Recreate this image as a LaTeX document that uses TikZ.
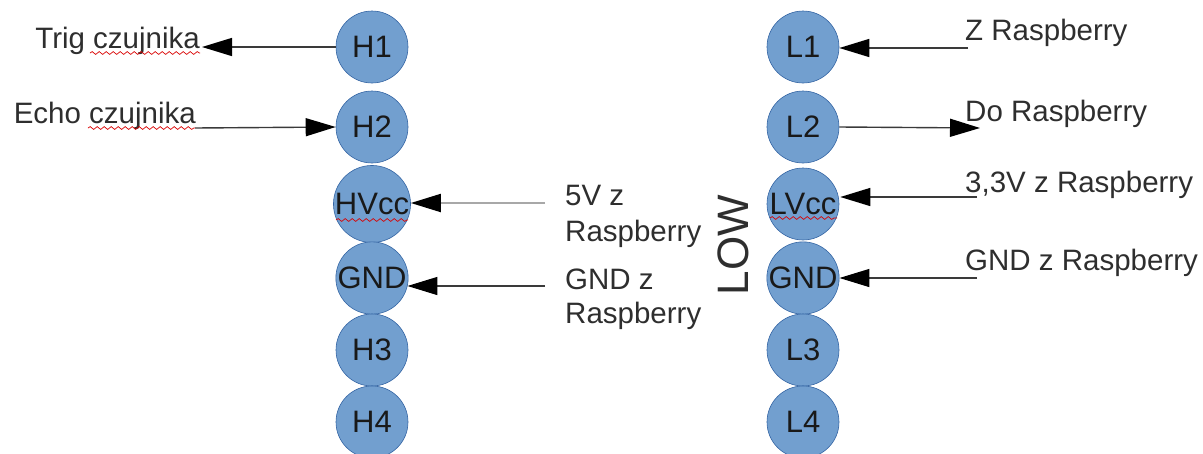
\documentclass[tikz,border=0pt]{standalone}
\usepackage{fontspec}
\setmainfont{Liberation Sans}
\usetikzlibrary{arrows.meta,decorations.pathmorphing}
\definecolor{pinfill}{HTML}{729FCF}
\definecolor{pinedge}{HTML}{3465A4}
\definecolor{txt}{HTML}{2E2E2E}
\definecolor{wire}{HTML}{3A3A3A}
\definecolor{wirelight}{HTML}{A8A8A8}
\begin{document}
\begin{tikzpicture}[x=1pt,y=-1pt,
  pin/.style={circle,fill=pinfill,draw=pinedge,line width=0.6pt,minimum size=72pt,inner sep=0pt,
    font=\fontsize{31}{31}\selectfont,text=black!90},
  lbl/.style={inner sep=0pt,font=\fontsize{29.5}{35}\selectfont,text=txt},
  wire/.style={draw=wire,line width=1.4pt,-{Triangle[length=30pt,width=18pt,color=black]}},
  lightwire/.style={wire,draw=wirelight,line width=2pt},
  squig/.style={draw=red!85!black,line width=0.7pt,decorate,
    decoration={snake,amplitude=1.4pt,segment length=7pt}}]
\useasboundingbox (0,0) rectangle (1203,453);
% pins, high side
\node[pin] (H1) at (372,47) {H1};
\node[pin] (H2) at (372,127) {H2};
\node[pin] (HVcc) at (372,204) {HVcc};
\node[pin] (HGND) at (372,278) {GND};
\node[pin] (H3) at (372,350) {H3};
\node[pin] (H4) at (372,422) {H4};
% pins, low side
\node[pin] (L1) at (803,47) {L1};
\node[pin] (L2) at (803,127) {L2};
\node[pin] (LVcc) at (803,204) {LVcc};
\node[pin] (LGND) at (803,278) {GND};
\node[pin] (L3) at (803,350) {L3};
\node[pin] (L4) at (803,422) {L4};
% LOW
\node[inner sep=0pt,rotate=90,font=\fontsize{44}{44}\selectfont,text=txt] (low) at (733,245) {LOW};
% labels left
\node[lbl,anchor=base east] (trig) at (200,48) {Trig czujnika};
\node[lbl,anchor=base east] (echo) at (196,123) {Echo czujnika};
\node[lbl,anchor=base west] (v5a) at (565,205) {5V z};
\node[lbl,anchor=base west] (v5b) at (565,241) {Raspberry};
\node[lbl,anchor=base west] (gha) at (565,289) {GND z};
\node[lbl,anchor=base west] (ghb) at (565,323) {Raspberry};
% labels right
\node[lbl,anchor=base west] (zr) at (965,40) {Z Raspberry};
\node[lbl,anchor=base west] (dr) at (965,121) {Do Raspberry};
\node[lbl,anchor=base west] (v33) at (965,192) {3,3V z Raspberry};
\node[lbl,anchor=base west] (glr) at (965,270) {GND z Raspberry};
% connector free ends
\coordinate (trigEnd) at (202,47);
\coordinate (echoStart) at (195,128);
\coordinate (v5Start) at (545,203);
\coordinate (ghStart) at (545,286);
\coordinate (zrStart) at (968,48);
\coordinate (drEnd) at (980,128);
\coordinate (v33Start) at (977,197);
\coordinate (glStart) at (977,278);
% connectors
\draw[wire] (H1.west) -- (trigEnd);
\draw[wire] (echoStart) -- (H2.west);
\draw[lightwire] (v5Start) -- (HVcc.east |- v5Start);
\draw[wire] (ghStart) -- ([xshift=-1pt]HGND.east |- ghStart);
\draw[wire] (zrStart) -- (L1.east |- zrStart);
\draw[wire] (L2.east) -- (drEnd);
\draw[wire] (v33Start) -- ([xshift=1pt]LVcc.east |- v33Start);
\draw[wire] (glStart) -- (LGND.east);
% spell-check underlines
\draw[squig] (90,53) -- (200,53);
\draw[squig] (88,128) -- (195,128);
\draw[squig] (336,220) -- (408,220);
\draw[squig] (770,218) -- (837,218);
\end{tikzpicture}
\end{document}
